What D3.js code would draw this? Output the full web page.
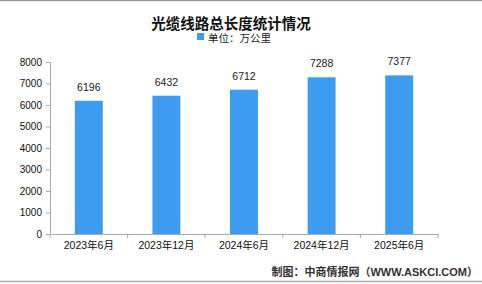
<!DOCTYPE html>
<html>
<head>
<meta charset="utf-8">
<script src="https://cdn.jsdelivr.net/npm/d3@7"></script>
<style>
  body { margin: 0; background: #fff; }
  text { font-family: "Liberation Sans", Arial, "Noto Sans CJK SC", sans-serif; }
</style>
</head>
<body>
<div id="vizArea"></div>
<script>
const categories = ['2023年6月', '2023年12月', '2024年6月', '2024年12月', '2025年6月']
const values = [6196, 6432, 6712, 7288, 7377]
const yTicks = [0, 1000, 2000, 3000, 4000, 5000, 6000, 7000, 8000]

const width = 482, height = 284
const margin = {top: 62, right: 44, bottom: 50, left: 50}

const svg = d3.select('#vizArea')
    .append('svg')
    .attr('width', width)
    .attr('height', height)

// frame lines top and bottom
svg.append('line').attr('x1', 0).attr('x2', width).attr('y1', 0.5).attr('y2', 0.5)
    .attr('stroke', '#999').attr('stroke-width', 1.5)
svg.append('line').attr('x1', 0).attr('x2', width).attr('y1', 281.5).attr('y2', 281.5)
    .attr('stroke', '#aaa').attr('stroke-width', 1.5)

svg.append('text')
    .attr('x', 231).attr('y', 28.5)
    .attr('text-anchor', 'middle')
    .style('font-weight', 'bold')
    .style('font-size', '14.5px')
    .attr('fill', '#111')
    .text('光缆线路总长度统计情况')

// legend
svg.append('rect').attr('x', 197).attr('y', 33).attr('width', 7).attr('height', 7).attr('fill', '#3d9cf0')
svg.append('text')
    .attr('x', 208).attr('y', 41.5)
    .style('font-size', '10.5px')
    .attr('fill', '#222')
    .text('单位：万公里')

const x = d3.scaleBand().domain(categories).range([margin.left, width - margin.right]).paddingInner(0.64).paddingOuter(0.32)
const y = d3.scaleLinear().domain([0, 8000]).range([height - margin.bottom, margin.top])

const xAxis = svg.append('g')
    .attr('transform', `translate(0,${height - margin.bottom})`)
    .call(d3.axisBottom(x).tickSize(0).tickPadding(8))
xAxis.select('.domain').attr('stroke', '#aaa')
xAxis.selectAll('text').attr('fill', '#111').style('font-size', '10.5px')

// category boundary ticks
const bounds = d3.range(categories.length + 1).map(i => margin.left + i * (width - margin.left - margin.right) / categories.length)
xAxis.selectAll('line.sep')
    .data(bounds)
    .enter()
    .append('line')
    .attr('class', 'sep')
    .attr('x1', d => d).attr('x2', d => d)
    .attr('y1', 0).attr('y2', 4)
    .attr('stroke', '#aaa')

const yAxis = svg.append('g')
    .attr('transform', `translate(${margin.left},0)`)
    .call(d3.axisLeft(y).tickValues(yTicks).tickFormat(d3.format('d')).tickSize(4).tickPadding(4))
yAxis.select('.domain').attr('stroke', '#aaa')
yAxis.selectAll('line').attr('stroke', '#aaa')
yAxis.selectAll('text').attr('fill', '#111').style('font-size', '10px')

svg.selectAll('rect.bar')
    .data(values)
    .enter()
    .append('rect')
    .attr('class', 'bar')
    .attr('x', (d, i) => x(categories[i]))
    .attr('y', d => y(d))
    .attr('width', x.bandwidth())
    .attr('height', d => y(0) - y(d))
    .attr('fill', '#3d9cf0')

svg.selectAll('text.val')
    .data(values)
    .enter()
    .append('text')
    .attr('class', 'val')
    .attr('x', (d, i) => x(categories[i]) + x.bandwidth() / 2)
    .attr('y', d => y(d) - 10)
    .attr('text-anchor', 'middle')
    .style('font-size', '10.5px')
    .attr('fill', '#222')
    .text(d => d)

svg.append('text')
    .attr('x', 478).attr('y', 276)
    .attr('text-anchor', 'end')
    .style('font-size', '11px')
    .style('font-weight', 'bold')
    .attr('fill', '#333')
    .text('制图：中商情报网（WWW.ASKCI.COM）')
</script>
</body>
</html>
